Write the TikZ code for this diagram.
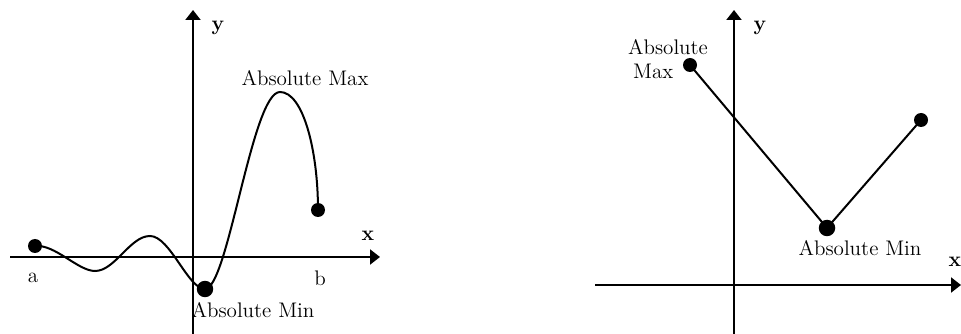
\documentclass[tikz,border=0pt]{standalone}
\usepackage{tikz}
\usetikzlibrary{arrows.meta, positioning}

\begin{document}
\begin{tikzpicture}[x=0.02cm, y=-0.02cm, line width=0.04cm,
  axis/.style={-{Triangle[length=0.2cm, width=0.3cm]}},
  dot/.style={circle, fill, inner sep=0pt, minimum size=0.28cm},
  bigdot/.style={circle, fill, inner sep=0pt, minimum size=0.33cm},
  lbl/.style={font=\fontsize{12}{14}\selectfont, inner sep=1pt}]
  \useasboundingbox (0,0) rectangle (961,334);

  % Left graph: axes
  \coordinate (lxs) at (10,257);  \coordinate (lxe) at (380,257);
  \coordinate (lys) at (193,334); \coordinate (lye) at (193,10);
  \draw[axis] (lxs) -- (lxe);
  \draw[axis] (lys) -- (lye);
  \node[lbl] (ly) at (218,28) {\textbf{y}};
  \node[lbl] (lx) at (368,236) {\textbf{x}};
  \node[lbl] (la) at (33,278) {a};
  \node[lbl] (lb) at (320,278) {b};

  % Left graph: curve from a to b
  \coordinate (p0) at (35,246);
  \coordinate (p1) at (95,271);
  \coordinate (p2) at (150,236);
  \coordinate (p3) at (205,289);
  \coordinate (p4) at (280,92);
  \coordinate (p5) at (318,210);
  \draw (p0) .. controls (55,244) and (78,271) .. (p1)
             .. controls (115,271) and (130,236) .. (p2)
             .. controls (170,236) and (188,289) .. (p3)
             .. controls (228,289) and (252,92) .. (p4)
             .. controls (303,92) and (318,150) .. (p5);
  \node[dot] (da) at (p0) {};
  \node[bigdot] (dmin) at (p3) {};
  \node[dot] (db) at (p5) {};
  \node[lbl] (lmax) at (305,78) {Absolute Max};
  \node[lbl] (lmin) at (253,310) {Absolute Min};

  % Right graph: axes
  \coordinate (rxs) at (595,285); \coordinate (rxe) at (961,285);
  \coordinate (rys) at (734,334); \coordinate (rye) at (734,10);
  \draw[axis] (rxs) -- (rxe);
  \draw[axis] (rys) -- (rye);
  \node[lbl] (ry) at (760,28) {\textbf{y}};
  \node[lbl] (rx) at (955,262) {\textbf{x}};

  % Right graph: V shape
  \node[dot] (rmax) at (690,65) {};
  \node[bigdot] (rmin) at (827,228) {};
  \node[dot] (rend) at (921,120) {};
  \draw (rmax.center) -- (rmin.center) -- (rend.center);
  \node[lbl, align=left] (rmaxl) at (668,59) {Absolute\\\hspace*{0.1cm}Max};
  \node[lbl] (rminl) at (860,248) {Absolute Min};
\end{tikzpicture}
\end{document}
